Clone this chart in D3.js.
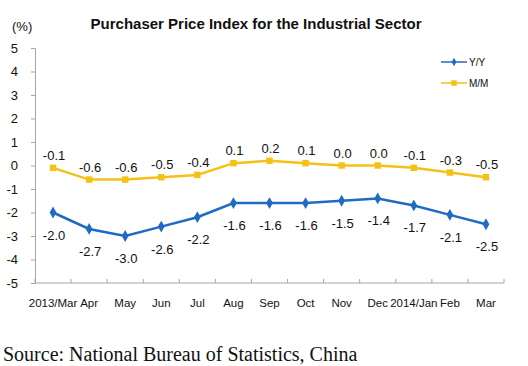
<!DOCTYPE html>
<html>
<head>
<meta charset="utf-8">
<script src="https://cdn.jsdelivr.net/npm/d3@7"></script>
<style>
  body { margin: 0; background: #fff; }
  svg text { font-family: "Liberation Sans", Arial, sans-serif; fill: #111; }
</style>
</head>
<body>
<svg id="chart" width="528" height="366"></svg>
<script>
const months = ['2013/Mar','Apr','May','Jun','Jul','Aug','Sep','Oct','Nov','Dec','2014/Jan','Feb','Mar'];
const yoy    = [-2.0,-2.7,-3.0,-2.6,-2.2,-1.6,-1.6,-1.6,-1.5,-1.4,-1.7,-2.1,-2.5];
const mom    = [-0.1,-0.6,-0.6,-0.5,-0.4,0.1,0.2,0.1,0.0,0.0,-0.1,-0.3,-0.5];
const yTicks = [-5,-4,-3,-2,-1,0,1,2,3,4,5];

const BLUE = '#1f6bc4', GOLD = '#f4c216', AXIS = '#a6a6a6';

const svg = d3.select('#chart');
const x = d3.scaleBand().domain(months).range([35, 504]);
const y = d3.scaleLinear().domain([-5, 5]).range([283, 48]);
const cx = d => x(d) + x.bandwidth() / 2;
const fmt = d => d.toFixed(1);   // plain hyphen, like the original

// title + unit
svg.append('text').attr('x', 256).attr('y', 29).attr('text-anchor', 'middle')
   .style('font-size', '15px').style('font-weight', 'bold').text('Purchaser Price Index for the Industrial Sector');
svg.append('text').attr('x', 12).attr('y', 31).style('font-size', '13px').text('(%)');

// y axis
const yAx = svg.append('g').attr('transform', 'translate(35,0)')
   .call(d3.axisLeft(y).tickValues(yTicks).tickSize(4).tickPadding(13).tickFormat(d => String(d)));
yAx.select('.domain').attr('stroke', AXIS);
yAx.selectAll('.tick line').attr('stroke', AXIS);
yAx.selectAll('.tick text').style('font-size', '13px').attr('fill', '#111');

// x axis: ticks at band edges, pointing up
const xAx = svg.append('g').attr('transform', `translate(0,${y(-5)})`);
xAx.append('line').attr('x1', 35).attr('x2', 504).attr('stroke', AXIS);
xAx.selectAll('.edge').data(months.concat(['end'])).enter().append('line')
   .attr('x1', (d, i) => i < months.length ? x(d) : 504)
   .attr('x2', (d, i) => i < months.length ? x(d) : 504)
   .attr('y1', 0).attr('y2', -4).attr('stroke', AXIS);
xAx.selectAll('text').data(months).enter().append('text')
   .attr('x', d => cx(d)).attr('y', 24).attr('text-anchor', 'middle')
   .style('font-size', '11.5px').text(d => d);

// series
const line = vals => d3.line().x((d, i) => cx(months[i])).y(d => y(d))(vals);

function drawSeries(vals, color, shape, size, dy) {
  const g = svg.append('g');
  g.append('path').attr('d', line(vals)).attr('fill', 'none')
   .attr('stroke', color).attr('stroke-width', 2.5);
  g.selectAll('path.pt').data(vals).enter().append('path').attr('class', 'pt')
   .attr('transform', (d, i) => `translate(${cx(months[i])},${y(d)})`)
   .attr('d', d3.symbol().type(shape).size(size)).attr('fill', color);
  g.selectAll('text').data(vals).enter().append('text')
   .attr('x', (d, i) => cx(months[i]) + 1).attr('y', d => y(d) + dy)
   .attr('text-anchor', 'middle').style('font-size', '13px')
   .text(fmt);
}
drawSeries(yoy, BLUE, d3.symbolDiamond, 40, 27);
drawSeries(mom, GOLD, d3.symbolSquare, 42, -8);

// legend
const legend = svg.append('g');
[['Y/Y', BLUE, d3.symbolDiamond, 20], ['M/M', GOLD, d3.symbolSquare, 30]].forEach(([name, c, s, sz], i) => {
  const ly = 62 + i * 21;
  legend.append('line').attr('x1', 441).attr('x2', 467).attr('y1', ly).attr('y2', ly)
        .attr('stroke', c).attr('stroke-width', 1.5);
  legend.append('path').attr('transform', `translate(454,${ly})`)
        .attr('d', d3.symbol().type(s).size(sz)).attr('fill', c);
  legend.append('text').attr('x', 469).attr('y', ly + 4).style('font-size', '10px').text(name);
});

// source note
svg.append('text').attr('x', 3).attr('y', 361)
   .style('font-family', '"Liberation Serif", "Times New Roman", serif').style('font-size', '20px')
   .text('Source: National Bureau of Statistics, China');
</script>
</body>
</html>
